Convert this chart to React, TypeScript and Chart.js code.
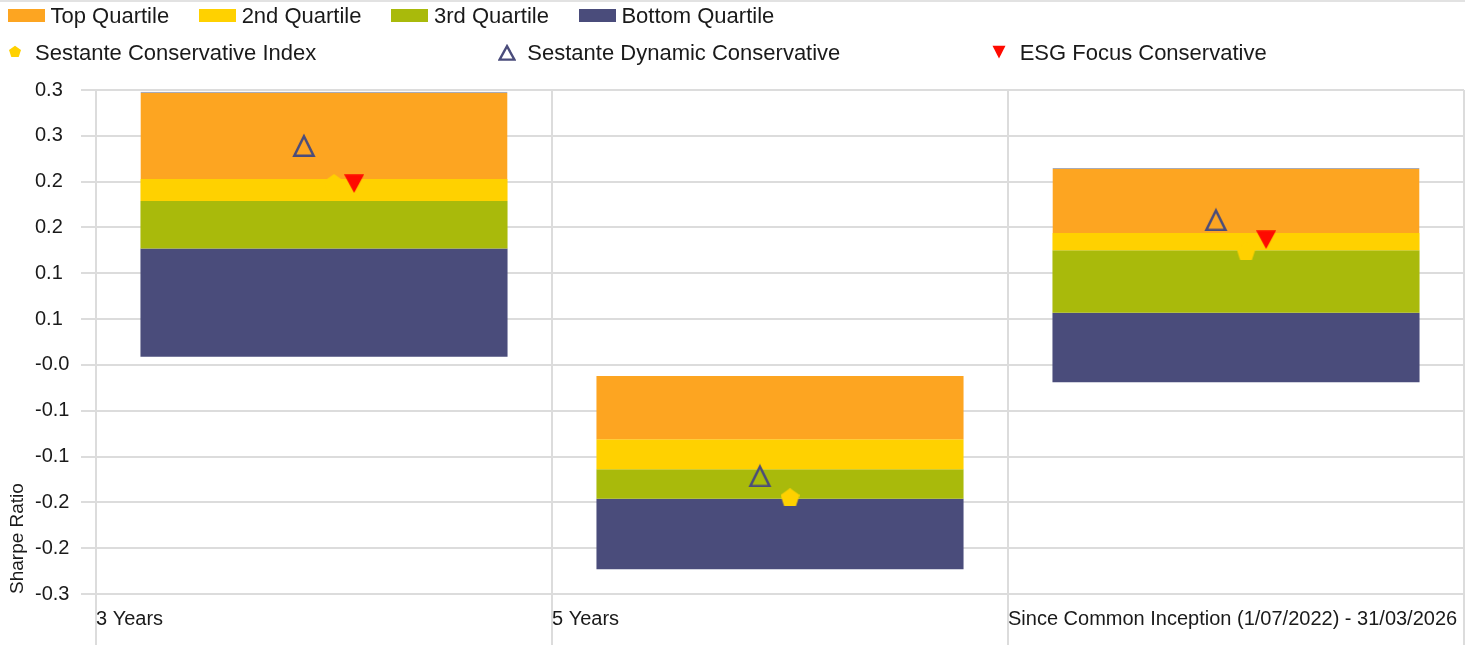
import React, { useEffect, useRef } from 'react';
import { Chart, registerables } from 'chart.js';

Chart.register(...registerables);

// ---------- data ----------
const CATEGORIES = ['3 Years', '5 Years', 'Since Common Inception (1/07/2022) - 31/03/2026'];

// peer-group quartile boundaries per category
const RANGE_MIN = [0.009, -0.223, -0.019];
const RANGE_Q1 = [0.127, -0.146, 0.057];
const RANGE_MEDIAN = [0.179, -0.114, 0.125];
const RANGE_Q3 = [0.203, -0.081, 0.144];
const RANGE_MAX = [0.298, -0.012, 0.215];

const INDEX_VALUES = [0.1985, -0.1444, 0.1243];
const DYNAMIC_VALUES = [0.24, -0.1205, 0.159];
const ESG_VALUES: (number | null)[] = [0.1978, null, 0.1366];

// tick labels from bottom (-0.25) to top (0.30), as printed on the axis
const Y_TICK_LABELS = ['-0.3', '-0.2', '-0.2', '-0.1', '-0.1', '-0.0', '0.1', '0.1', '0.2', '0.2', '0.3', '0.3'];

const QUARTILE_LABELS = ['Top Quartile', '2nd Quartile', '3rd Quartile', 'Bottom Quartile'];
const SERIES_LABELS = ['Sestante Conservative Index', 'Sestante Dynamic Conservative', 'ESG Focus Conservative'];

// ---------- styles ----------
const ORANGE = '#FDA521';
const YELLOW = '#FFD100';
const GREEN = '#A9BA0B';
const NAVY = '#4A4C7B';
const RED = '#FF0A00';
const GRID = '#DCDCDC';
const TEXT = '#1A1A1A';
const FONT = "'Liberation Sans', Arial, Helvetica, sans-serif";
const QUARTILE_COLORS = [ORANGE, YELLOW, GREEN, NAVY];

// horizontal offsets of the markers inside each category (category units)
const OFFSET_DYNAMIC = -0.044;
const OFFSET_INDEX = 0.022;
const OFFSET_ESG = 0.066;

function makePentagon(w: number, h: number, color: string) {
  const c = document.createElement('canvas');
  c.width = w;
  c.height = h;
  const ctx = c.getContext('2d')!;
  const R = w / (2 * Math.sin((72 * Math.PI) / 180));
  const cx = w / 2;
  const cy = h / 2 + (R - R * Math.cos((36 * Math.PI) / 180)) / 2;
  ctx.beginPath();
  for (let k = 0; k < 5; k++) {
    const a = ((-90 + k * 72) * Math.PI) / 180;
    const px = cx + R * Math.cos(a);
    const py = cy + R * Math.sin(a);
    if (k === 0) ctx.moveTo(px, py);
    else ctx.lineTo(px, py);
  }
  ctx.closePath();
  ctx.fillStyle = color;
  ctx.fill();
  return c;
}

function makeTriangleUp(w: number, h: number, lw: number, color: string) {
  const c = document.createElement('canvas');
  c.width = w;
  c.height = h;
  const ctx = c.getContext('2d')!;
  ctx.beginPath();
  ctx.moveTo(w / 2, lw * 1.3);
  ctx.lineTo(w - lw * 0.95, h - lw / 2);
  ctx.lineTo(lw * 0.95, h - lw / 2);
  ctx.closePath();
  ctx.lineWidth = lw;
  ctx.lineJoin = 'miter';
  ctx.strokeStyle = color;
  ctx.stroke();
  return c;
}

function makeTriangleDown(w: number, h: number, color: string) {
  const c = document.createElement('canvas');
  c.width = w;
  c.height = h;
  const ctx = c.getContext('2d')!;
  ctx.beginPath();
  ctx.moveTo(0, 0.3);
  ctx.lineTo(w, 0.3);
  ctx.lineTo(w / 2, h - 0.2);
  ctx.closePath();
  ctx.fillStyle = color;
  ctx.fill();
  return c;
}

function LegendMarker({ kind }: { kind: number }) {
  if (kind === 0) {
    const R = 6.3;
    const pts: string[] = [];
    for (let k = 0; k < 5; k++) {
      const a = ((-90 + k * 72) * Math.PI) / 180;
      pts.push(`${7 + R * Math.cos(a)},${7 + R * Math.sin(a)}`);
    }
    return (
      <svg width={14} height={14} style={{ display: 'block' }}>
        <polygon points={pts.join(' ')} fill={YELLOW} />
      </svg>
    );
  }
  if (kind === 1) {
    return (
      <svg width={18} height={17} style={{ display: 'block' }}>
        <polygon points="9,2.2 16.4,15.6 1.6,15.6" fill="none" stroke={NAVY} strokeWidth={2.4} />
      </svg>
    );
  }
  return (
    <svg width={14} height={14} style={{ display: 'block' }}>
      <polygon points="0.5,0.8 13.5,0.8 7,13.4" fill={RED} />
    </svg>
  );
}

export default function App() {
  const ref = useRef<HTMLCanvasElement>(null);

  useEffect(() => {
    document.body.style.margin = '0';
    document.body.style.overflow = 'hidden';
    if (!ref.current) return;

    const pentagon = makePentagon(19, 18, YELLOW);
    const triUp = makeTriangleUp(24, 24, 2.5, NAVY);
    const triDown = makeTriangleDown(20, 19, RED);

    const lows = [RANGE_Q3, RANGE_MEDIAN, RANGE_Q1, RANGE_MIN];
    const highs = [RANGE_MAX, RANGE_Q3, RANGE_MEDIAN, RANGE_Q1];

    const barSets = QUARTILE_LABELS.map((label, qi) => ({
      type: 'bar' as const,
      label,
      data: CATEGORIES.map((_, i) => [lows[qi][i], highs[qi][i]]),
      backgroundColor: QUARTILE_COLORS[qi],
      borderColor: qi === 0 ? '#A9ABB6' : QUARTILE_COLORS[qi],
      borderWidth: qi === 0 ? { top: 1.2, left: 0, right: 0, bottom: 0 } : 0,
      borderSkipped: 'start' as const,
      grouped: false,
      barPercentage: 0.805,
      categoryPercentage: 1,
      xAxisID: 'x',
      order: 10,
    }));

    const markerSet = (label: string, values: (number | null)[], offset: number, img: HTMLCanvasElement, order: number) => ({
      type: 'line' as const,
      label,
      xAxisID: 'xm',
      data: values.map((v, i) => ({ x: i + offset, y: v })),
      showLine: false,
      pointStyle: img,
      pointRadius: 10,
      pointHoverRadius: 10,
      order,
    });

    const chart = new Chart(ref.current, {
      type: 'bar',
      data: {
        labels: CATEGORIES,
        datasets: [
          ...barSets,
          markerSet(SERIES_LABELS[1], DYNAMIC_VALUES, OFFSET_DYNAMIC, triUp, 3),
          markerSet(SERIES_LABELS[0], INDEX_VALUES, OFFSET_INDEX, pentagon, 2),
          markerSet(SERIES_LABELS[2], ESG_VALUES, OFFSET_ESG, triDown, 1),
        ] as any,
      },
      options: {
        animation: false,
        responsive: true,
        maintainAspectRatio: false,
        events: [],
        layout: { padding: { top: 90, right: 13, left: 0, bottom: 0 } },
        plugins: { legend: { display: false }, tooltip: { enabled: false } },
        scales: {
          x: {
            type: 'category',
            offset: true,
            grid: { offset: true, color: GRID, lineWidth: 2, tickLength: 51, drawTicks: true },
            border: { display: false },
            ticks: {
              align: 'start',
              labelOffset: -228,
              padding: -38,
              autoSkip: false,
              maxRotation: 0,
              minRotation: 0,
              color: TEXT,
              font: { family: FONT, size: 20 },
            },
            afterFit: (s: any) => {
              s.height = 51;
              s.paddingLeft = 0;
              s.paddingRight = 0;
            },
          },
          xm: {
            type: 'linear',
            display: false,
            offset: false,
            grid: { offset: false },
            min: -0.5,
            max: 2.5,
          },
          y: {
            type: 'linear',
            position: 'left',
            weight: 0,
            min: -0.25,
            max: 0.3,
            ticks: {
              stepSize: 0.05,
              crossAlign: 'far',
              padding: 11.5,
              color: TEXT,
              font: { family: FONT, size: 20 },
              callback: (_v: any, i: number) => Y_TICK_LABELS[i],
            },
            grid: { color: GRID, lineWidth: 2, tickLength: 15 },
            border: { display: false },
            afterFit: (s: any) => {
              s.width = 61;
            },
          },
          yTitle: {
            type: 'linear',
            position: 'left',
            weight: 1,
            min: -0.25,
            max: 0.3,
            ticks: { display: false },
            grid: { display: false, drawOnChartArea: false, drawTicks: false },
            border: { display: false },
            title: {
              display: true,
              text: 'Sharpe Ratio',
              align: 'start',
              color: TEXT,
              font: { family: FONT, size: 19 },
              padding: { top: 6, bottom: 0 },
            },
            afterFit: (s: any) => {
              s.width = 35;
            },
          },
        },
      } as any,
    });
    return () => chart.destroy();
  }, []);

  const textStyle: React.CSSProperties = { fontFamily: FONT, fontSize: 22, color: TEXT, whiteSpace: 'nowrap', lineHeight: '25px' };

  return (
    <div style={{ position: 'relative', width: 1477, height: 645, overflow: 'hidden', background: '#fff' }}>
      <canvas ref={ref} />
      <div style={{ position: 'absolute', top: 0, left: 0, width: 1465, height: 2, background: '#E2E2E2' }} />
      <div style={{ position: 'absolute', top: 3, left: 8, height: 25, display: 'flex', alignItems: 'center', gap: 30 }}>
        {QUARTILE_LABELS.map((l, i) => (
          <div key={l} style={{ display: 'flex', alignItems: 'center' }}>
            <span style={{ display: 'block', width: 37, height: 12.5, background: QUARTILE_COLORS[i], marginRight: 5.5 }} />
            <span style={textStyle}>{l}</span>
          </div>
        ))}
      </div>
      <div style={{ position: 'absolute', top: 39.5, left: 0, width: 1477, height: 25, display: 'flex', alignItems: 'center' }}>
        {SERIES_LABELS.map((l, i) => (
          <div key={l} style={{ width: 1477 / 3, display: 'flex', alignItems: 'center' }}>
            <span style={{ display: 'flex', width: 29, justifyContent: 'center', marginLeft: 0, marginRight: 6 }}>
              <LegendMarker kind={i} />
            </span>
            <span style={textStyle}>{l}</span>
          </div>
        ))}
      </div>
    </div>
  );
}
